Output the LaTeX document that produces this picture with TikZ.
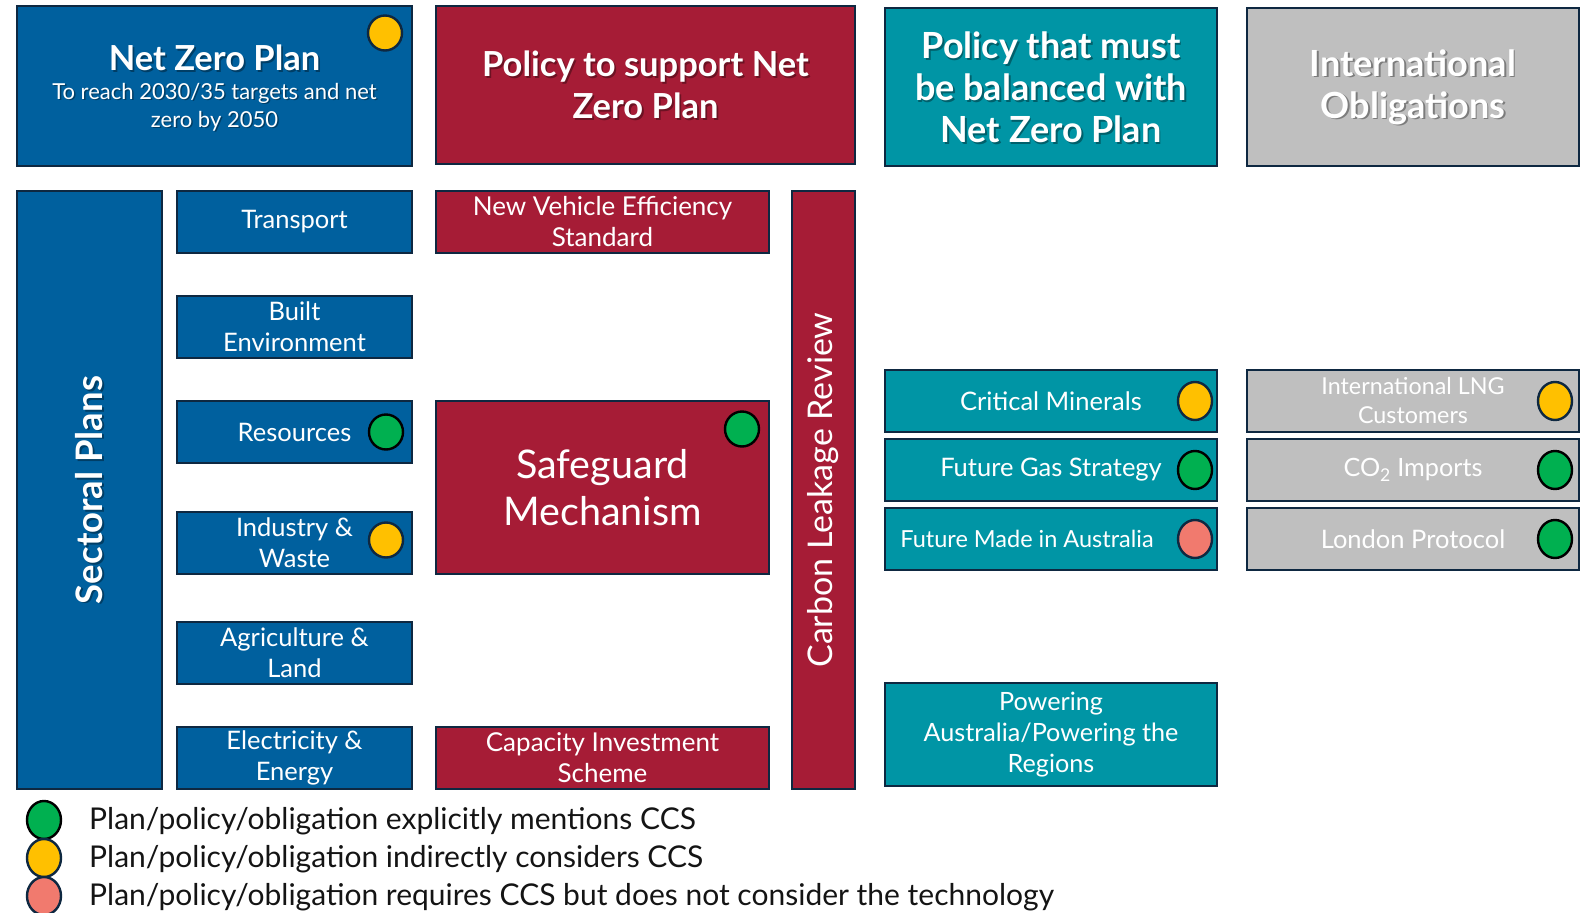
\documentclass[tikz,border=0pt]{standalone}
\usepackage{fontspec}
\setmainfont{Lato}
\usetikzlibrary{shapes.geometric,calc}

\definecolor{planblue}{RGB}{0,96,158}
\definecolor{policyred}{RGB}{166,28,54}
\definecolor{balteal}{RGB}{0,149,165}
\definecolor{intlgrey}{RGB}{191,191,191}
\definecolor{edgenavy}{RGB}{14,40,65}
\definecolor{dotgreen}{RGB}{0,176,80}
\definecolor{dotyellow}{RGB}{255,192,0}
\definecolor{dotsalmon}{RGB}{241,122,110}
\definecolor{legendtext}{RGB}{20,20,20}

\tikzset{
  panel/.style={rectangle, draw=edgenavy, line width=2.4pt, inner sep=0pt,
    text=white, align=center},
  bluepanel/.style={panel, fill=planblue},
  redpanel/.style={panel, fill=policyred},
  tealpanel/.style={panel, fill=balteal},
  greypanel/.style={panel, fill=intlgrey},
  lbl/.style={text=white, align=center, inner sep=0pt},
  shade/.style={text=black, opacity=0.35, align=center, inner sep=0pt},
  dot/.style={ellipse, draw=edgenavy, line width=2.4pt, minimum width=34pt,
    minimum height=35pt, inner sep=0pt},
  tall/.style={minimum height=38pt},
  gdot/.style={dot, fill=dotgreen, draw=black},
  ydot/.style={dot, fill=dotyellow},
  sdot/.style={dot, fill=dotsalmon},
  key/.style={anchor=west, inner sep=0pt, text=legendtext,
    font=\fontsize{30}{32}\selectfont},
}

% panel from its corners: name, x1, y1, x2, y2, style, text
\newcommand\panelat[7]{%
  \node[#6, minimum width={(#4)-(#2)}, minimum height={(#5)-(#3)}] (#1)
    at ({((#2)+(#4))/2},{((#3)+(#5))/2}) {#7};}

% white text with a soft drop shadow, centred on a point
\newcommand\shadowtext[3]{%
  \node[shade, font=#2] at ($(#1)+(1.8,1.8)$) {#3};
  \node[lbl, font=#2] at (#1) {#3};}

\begin{document}
\begin{tikzpicture}[x=1pt,y=-1pt]
\useasboundingbox[fill=white] (0,0) rectangle (1580,913);

% ---- column headers ----
\panelat{nzp}{17}{6}{412}{166}{bluepanel}{}
\node[shade, font=\bfseries\fontsize{34.5}{36}\selectfont] at ($(nzp.center)+(1.8,-26.2)$) {Net Zero Plan};
\node[lbl, font=\bfseries\fontsize{34.5}{36}\selectfont] (nzpT) at ($(nzp.center)+(0,-28)$) {Net Zero Plan};
\node[shade, font=\fontsize{22}{28}\selectfont] at ($(nzp.center)+(1.5,22.5)$) {To reach 2030/35 targets and net\\zero by 2050};
\node[lbl, font=\fontsize{22}{28}\selectfont] (nzpS) at ($(nzp.center)+(0,21)$) {To reach 2030/35 targets and net\\zero by 2050};

\panelat{pol}{436}{6}{855}{164}{redpanel}{}
\shadowtext{pol.center}{\bfseries\fontsize{34.5}{42}\selectfont}{Policy to support Net\\Zero Plan}

\panelat{bal}{885}{8}{1217}{166}{tealpanel}{}
\shadowtext{bal.center}{\bfseries\fontsize{36}{42}\selectfont}{Policy that must\\be balanced with\\Net Zero Plan}

\panelat{intl}{1247}{8}{1579}{166}{greypanel}{}
\shadowtext{intl.center}{\bfseries\fontsize{36}{42}\selectfont}{International\\Obligations}

% ---- sectoral plans ----
\panelat{sect}{17}{191}{162}{789}{bluepanel}{}
\node[shade, rotate=90, font=\bfseries\fontsize{36.5}{38}\selectfont] at ($(sect.center)+(1.8,1.8)$) {Sectoral Plans};
\node[lbl, rotate=90, font=\bfseries\fontsize{36.5}{38}\selectfont] (sectT) at (sect.center) {Sectoral Plans};

\tikzset{sectoral/.style={bluepanel, font=\fontsize{25.5}{31}\selectfont}}
\panelat{trans}{177}{191}{412}{253}{sectoral}{Transport}
\panelat{built}{177}{296}{412}{358}{sectoral}{Built\\Environment}
\panelat{res}{177}{401}{412}{463}{sectoral}{Resources}
\panelat{ind}{177}{512}{412}{574}{sectoral}{Industry \&\\Waste}
\panelat{agri}{177}{622}{412}{684}{sectoral}{Agriculture \&\\Land}
\panelat{elec}{177}{727}{412}{789}{sectoral}{Electricity \&\\Energy}

% ---- supporting policy ----
\panelat{nves}{436}{191}{769}{253}{redpanel, font=\fontsize{26}{31}\selectfont}{New Vehicle Efficiency\\Standard}
\panelat{safe}{436}{401}{769}{574}{redpanel, font=\fontsize{39.5}{47}\selectfont}{Safeguard\\Mechanism}
\panelat{cis}{436}{727}{769}{789}{redpanel, font=\fontsize{26}{31}\selectfont}{Capacity Investment\\Scheme}
\panelat{clr}{792}{191}{855}{789}{redpanel}{}
\node[lbl, rotate=90, font=\fontsize{34}{36}\selectfont] (clrT) at (clr.center) {Carbon Leakage Review};

% ---- policy to balance ----
\panelat{crit}{885}{370}{1217}{432}{tealpanel, font=\fontsize{25.5}{31}\selectfont}{Critical Minerals}
\panelat{gas}{885}{439}{1217}{501}{tealpanel, font=\fontsize{25.5}{31}\selectfont}{Future Gas Strategy}
\panelat{fmia}{885}{508}{1217}{570}{tealpanel}{}
\node[lbl, font=\fontsize{23.5}{31}\selectfont] (fmiaT) at ($(fmia.center)+(-24,0)$) {Future Made in Australia};
\panelat{pow}{885}{683}{1217}{786}{tealpanel, font=\fontsize{25.2}{31}\selectfont}{Powering\\Australia/Powering the\\Regions}

% ---- international obligations ----
\panelat{lng}{1247}{370}{1579}{432}{greypanel, font=\fontsize{23.3}{29}\selectfont}{International LNG\\Customers}
\panelat{co2}{1247}{439}{1579}{501}{greypanel, font=\fontsize{25.2}{31}\selectfont}{CO\textsubscript{2} Imports}
\panelat{lon}{1247}{508}{1579}{570}{greypanel, font=\fontsize{25.5}{31}\selectfont}{London Protocol}

% ---- CCS indicators ----
\node[ydot] (nzpD) at (385,33) {};
\node[gdot] (resD) at (386,432) {};
\node[ydot] (indD) at (386,540) {};
\node[gdot] (safeD) at (742,429) {};
\node[ydot, tall] (critD) at (1195,401) {};
\node[gdot, tall] (gasD) at (1195,470) {};
\node[sdot, tall] (fmiaD) at (1195,539) {};
\node[ydot, tall] (lngD) at (1555,401) {};
\node[gdot, tall] (co2D) at (1555,470) {};
\node[gdot, tall] (lonD) at (1555,539) {};

% ---- legend ----
\node[gdot, tall] (keyG) at (44,820) {};
\node[ydot, tall] (keyY) at (44,858) {};
\node[sdot, tall] (keyS) at (44,896) {};
\node[key] (keyGT) at (89,821) {Plan/policy/obligation explicitly mentions CCS};
\node[key] (keyYT) at (89,859) {Plan/policy/obligation indirectly considers CCS};
\node[key] (keyST) at (89,897) {Plan/policy/obligation requires CCS but does not consider the technology};
\end{tikzpicture}
\end{document}
